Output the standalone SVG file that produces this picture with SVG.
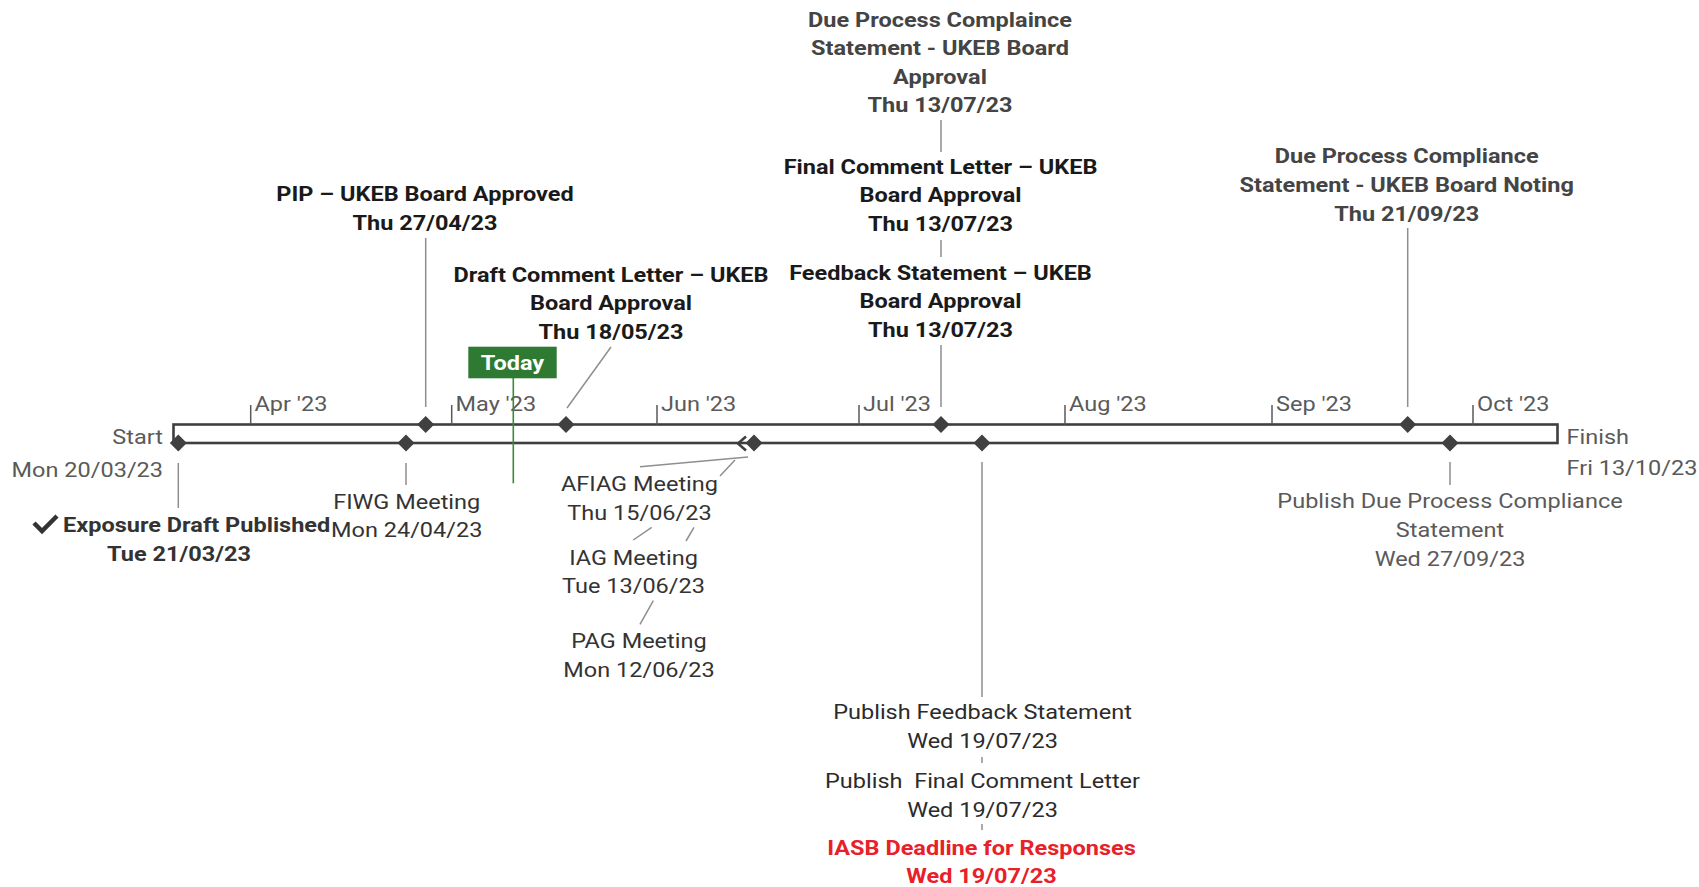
<svg xmlns="http://www.w3.org/2000/svg" xmlns:xlink="http://www.w3.org/1999/xlink" width="1699" height="887" viewBox="0 0 1699 887">
<style>
text{font-family:Roboto,"Liberation Sans",sans-serif;font-size:21px}
.r{fill:#333}
.g{fill:#5a5a5a}
.b{font-weight:700;fill:#1a1a1a}
.bg{font-weight:700;fill:#444}
.red{font-weight:700;fill:#e8202a}
.c{text-anchor:middle}
.e{text-anchor:end}
.ld{stroke:#8f8f8f;stroke-width:1.5;fill:none}
.tk{stroke:#5a5a5a;stroke-width:1.5}
.dm{fill:#404040}
</style>
<defs>
<path id="dm" d="M0,-8.5 L8.5,0 L0,8.5 L-8.5,0Z"/>
</defs>
<rect width="1699" height="887" fill="#fff"/>
<g id="timeline">
<rect x="173.5" y="424.5" width="1384" height="18.5" fill="#fff" stroke="#3f3f3f" stroke-width="2.6"/>
<path class="tk" d="M250.7 405V424.5M451.7 405V424.5M657 405V424.5M859 405V424.5M1065 405V424.5M1272 405V424.5M1473 405V424.5"/>
<text class="g" transform="translate(254.5,411) scale(1.12,1)">Apr '23</text>
<text class="g" transform="translate(455.5,411) scale(1.12,1)">May '23</text>
<text class="g" transform="translate(661,411) scale(1.12,1)">Jun '23</text>
<text class="g" transform="translate(863,411) scale(1.12,1)">Jul '23</text>
<text class="g" transform="translate(1069,411) scale(1.12,1)">Aug '23</text>
<text class="g" transform="translate(1276,411) scale(1.12,1)">Sep '23</text>
<text class="g" transform="translate(1477,411) scale(1.12,1)">Oct '23</text>
<text class="g e" transform="translate(163,444) scale(1.12,1)"><tspan x="0">Start</tspan><tspan x="0" dy="33">Mon 20/03/23</tspan></text>
<text class="g" transform="translate(1566.5,443.5) scale(1.12,1)"><tspan x="0">Finish</tspan><tspan x="0" dy="32">Fri 13/10/23</tspan></text>
<polyline points="746,436.5 738,443.5 746,450.5" fill="none" stroke="#404040" stroke-width="2.6"/>
</g>
<g id="connectors">
<path class="ld" d="M178.3 463V508M406 463V485M425.7 238V407M611 347L567 408M941 120V152M941 240V257M941 345V407M1407.7 228V407M1450 462V485M982 462V697M982 757V763M982 824V830"/>
<path class="ld" d="M640 466.7L748 457M720 476L735 460M651.7 527.3L633.3 540M694 527.3L686 541M653.3 600.7L640 624.3"/>
</g>
<g id="today">
<line x1="513.3" y1="378" x2="513.3" y2="483.3" stroke="#3a8a3a" stroke-width="1.6"/>
<rect x="468.3" y="346.7" width="88.4" height="31.6" fill="#2e7a32"/>
<text class="c" transform="translate(512.5,370) scale(1.12,1)" style="font-weight:700;fill:#fff">Today</text>
</g>
<g id="exposure-draft">
<use xlink:href="#dm" class="dm" x="178.3" y="443"/>
<path d="M34 523L42 531L57 516" fill="none" stroke="#333" stroke-width="4.5"/>
<text transform="translate(63,531.7) scale(1.12,1)" style="font-weight:700;fill:#333">Exposure Draft Published</text>
<text class="c" transform="translate(179,561) scale(1.12,1)" style="font-weight:700;fill:#333">Tue 21/03/23</text>
</g>
<g id="fiwg">
<use xlink:href="#dm" class="dm" x="406" y="443"/>
<text class="r c" transform="translate(406.7,508.5) scale(1.12,1)"><tspan x="0">FIWG Meeting</tspan><tspan x="0" dy="29">Mon 24/04/23</tspan></text>
</g>
<g id="pip">
<use xlink:href="#dm" class="dm" x="425.7" y="424.5"/>
<text class="b c" transform="translate(425,200.7) scale(1.12,1)"><tspan x="0">PIP – UKEB Board Approved</tspan><tspan x="0" dy="29">Thu 27/04/23</tspan></text>
</g>
<g id="draft-comment">
<use xlink:href="#dm" class="dm" x="566" y="424.5"/>
<text class="b c" transform="translate(611,281.7) scale(1.12,1)"><tspan x="0">Draft Comment Letter – UKEB</tspan><tspan x="0" dy="28.6">Board Approval</tspan><tspan x="0" dy="28.6">Thu 18/05/23</tspan></text>
</g>
<g id="afiag">
<use xlink:href="#dm" class="dm" x="754" y="443"/>
<text class="r c" transform="translate(639.5,490.5) scale(1.12,1)"><tspan x="0">AFIAG Meeting</tspan><tspan x="0" dy="29.3">Thu 15/06/23</tspan></text>
</g>
<g id="iag">
<text class="r c" transform="translate(633.5,564.5) scale(1.12,1)"><tspan x="0">IAG Meeting</tspan><tspan x="0" dy="28.6">Tue 13/06/23</tspan></text>
</g>
<g id="pag">
<text class="r c" transform="translate(639,647.5) scale(1.12,1)"><tspan x="0">PAG Meeting</tspan><tspan x="0" dy="29.3">Mon 12/06/23</tspan></text>
</g>
<g id="jul13">
<use xlink:href="#dm" class="dm" x="941" y="424.5"/>
<text class="bg c" transform="translate(940,26.5) scale(1.12,1)"><tspan x="0">Due Process Complaince</tspan><tspan x="0" dy="28.5">Statement - UKEB Board</tspan><tspan x="0" dy="28.6">Approval</tspan><tspan x="0" dy="28.4">Thu 13/07/23</tspan></text>
<text class="b c" transform="translate(940.5,173.8) scale(1.12,1)"><tspan x="0">Final Comment Letter – UKEB</tspan><tspan x="0" dy="28.6">Board Approval</tspan><tspan x="0" dy="28.6">Thu 13/07/23</tspan></text>
<text class="b c" transform="translate(940.5,280) scale(1.12,1)"><tspan x="0">Feedback Statement – UKEB</tspan><tspan x="0" dy="28.3">Board Approval</tspan><tspan x="0" dy="28.6">Thu 13/07/23</tspan></text>
</g>
<g id="jul19">
<use xlink:href="#dm" class="dm" x="982" y="443"/>
<text class="c" transform="translate(982.5,719) scale(1.12,1)" style="fill:#2b2b2b"><tspan x="0">Publish Feedback Statement</tspan><tspan x="0" dy="29.5">Wed 19/07/23</tspan></text>
<text class="c" transform="translate(982.5,788) scale(1.12,1)" style="fill:#2b2b2b;white-space:pre"><tspan x="0">Publish  Final Comment Letter</tspan><tspan x="0" dy="29">Wed 19/07/23</tspan></text>
<text class="red c" transform="translate(981.5,854.5) scale(1.12,1)"><tspan x="0">IASB Deadline for Responses</tspan><tspan x="0" dy="29">Wed 19/07/23</tspan></text>
</g>
<g id="sep21">
<use xlink:href="#dm" class="dm" x="1407.7" y="424.5"/>
<text class="bg c" transform="translate(1406.7,163.3) scale(1.12,1)"><tspan x="0">Due Process Compliance</tspan><tspan x="0" dy="29">Statement - UKEB Board Noting</tspan><tspan x="0" dy="28.6">Thu 21/09/23</tspan></text>
</g>
<g id="sep27">
<use xlink:href="#dm" class="dm" x="1450" y="443"/>
<text class="g c" transform="translate(1450,508) scale(1.12,1)"><tspan x="0">Publish Due Process Compliance</tspan><tspan x="0" dy="29">Statement</tspan><tspan x="0" dy="29">Wed 27/09/23</tspan></text>
</g>
</svg>
